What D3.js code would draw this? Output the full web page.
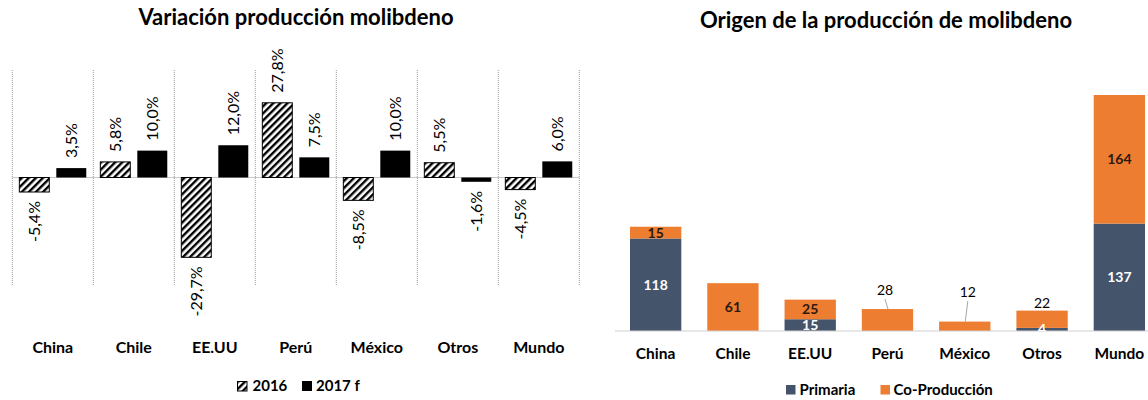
<!DOCTYPE html>
<html>
<head>
<meta charset="utf-8">
<script src="https://cdn.jsdelivr.net/npm/d3@7"></script>
<style>
  html, body { margin: 0; padding: 0; background: #fff; }
  svg { display: block; font-family: Lato, "Open Sans", sans-serif; }
</style>
</head>
<body>
<svg id="chart" width="1148" height="400"></svg>
<script>
// ---------- DATA ----------
const categories = ["China", "Chile", "EE.UU", "Perú", "México", "Otros", "Mundo"];
const var2016 = [-5.4, 5.8, -29.7, 27.8, -8.5, 5.5, -4.5];
const var2017 = [3.5, 10.0, 12.0, 7.5, 10.0, -1.6, 6.0];
const seriesLeft = ["2016", "2017 f"];
const primaria = [118, 0, 15, 0, 0, 4, 137];
const coproduccion = [15, 61, 25, 28, 12, 22, 164];
const seriesRight = ["Primaria", "Co-Producción"];
const titleLeft = "Variación producción molibdeno";
const titleRight = "Origen de la producción de molibdeno";
const calloutCategories = ["Perú", "México", "Otros"];

// ---------- SETUP ----------
const svg = d3.select("#chart");
const defs = svg.append("defs");
const hatch = defs.append("pattern")
  .attr("id", "hatch").attr("patternUnits", "userSpaceOnUse")
  .attr("width", 5).attr("height", 5)
  .attr("patternTransform", "rotate(45)");
hatch.append("rect").attr("width", 5).attr("height", 5).attr("fill", "#fff");
hatch.append("rect").attr("x", 0).attr("y", 0).attr("width", 2.4).attr("height", 5)
  .attr("fill", "#000");

const fmtPct = d => d3.format(".1f")(d).replace("−", "-").replace(".", ",") + "%";

// ---------- LEFT CHART ----------
const L = svg.append("g");
const xL = d3.scaleBand().domain(categories).range([12.3, 579.3]).padding(0);
const xL2 = d3.scaleBand().domain(seriesLeft).range([0, xL.bandwidth()])
  .paddingInner(0.19).paddingOuter(0.19);
const yL = d3.scaleLinear().domain([-40, 40]).range([285, 70]);

L.append("text").attr("x", 296).attr("y", 25).attr("text-anchor", "middle")
  .attr("font-weight", "bold").attr("font-size", 22).attr("fill", "#000")
  .text(titleLeft);

// dotted separators
const seps = categories.map(c => xL(c)).concat([xL.range()[1]]);
L.selectAll("line.sep").data(seps).join("line")
  .attr("class", "sep")
  .attr("x1", d => d).attr("x2", d => d)
  .attr("y1", yL(40)).attr("y2", yL(-40))
  .attr("stroke", "#9a9a9a").attr("stroke-width", 1).attr("stroke-dasharray", "1,1");

// zero line
L.append("line").attr("x1", xL.range()[0]).attr("x2", xL.range()[1])
  .attr("y1", yL(0)).attr("y2", yL(0))
  .attr("stroke", "#c8c8c8").attr("stroke-width", 1);

const leftData = [];
categories.forEach((c, i) => {
  leftData.push({ cat: c, s: seriesLeft[0], v: var2016[i] });
  leftData.push({ cat: c, s: seriesLeft[1], v: var2017[i] });
});

L.selectAll("rect.bar").data(leftData).join("rect")
  .attr("class", "bar")
  .attr("x", d => xL(d.cat) + xL2(d.s))
  .attr("width", xL2.bandwidth())
  .attr("y", d => Math.min(yL(d.v), yL(0)))
  .attr("height", d => Math.abs(yL(d.v) - yL(0)))
  .attr("fill", d => d.s === seriesLeft[0] ? "url(#hatch)" : "#000")
  .attr("stroke", "#000").attr("stroke-width", d => d.s === seriesLeft[0] ? 1 : 0);

L.selectAll("text.val").data(leftData).join("text")
  .attr("class", "val")
  .attr("transform", d => {
    const cx = xL(d.cat) + xL2(d.s) + xL2.bandwidth() / 2;
    const cy = d.v >= 0 ? yL(d.v) - 10 : yL(d.v) + 9;
    return `translate(${cx},${cy}) rotate(-90)`;
  })
  .attr("dy", "0.35em")
  .attr("text-anchor", d => d.v >= 0 ? "start" : "end")
  .attr("font-size", 16).attr("fill", "#000")
  .text(d => fmtPct(d.v));

// x axis labels
L.selectAll("text.cat").data(categories).join("text")
  .attr("class", "cat")
  .attr("x", d => xL(d) + xL.bandwidth() / 2).attr("y", 353)
  .attr("text-anchor", "middle").attr("font-weight", "bold").attr("font-size", 16)
  .attr("fill", "#000").text(d => d);

// legend left
const legL = L.append("g").attr("transform", "translate(237,381)");
legL.append("rect").attr("x", 0.5).attr("y", 0.5).attr("width", 9.5).attr("height", 9.5)
  .attr("fill", "url(#hatch)").attr("stroke", "#000");
legL.append("text").attr("x", 15.5).attr("y", 10).attr("font-weight", "bold").attr("font-size", 15)
  .text(seriesLeft[0]);
legL.append("rect").attr("x", 65).attr("y", 0).attr("width", 10).attr("height", 10).attr("fill", "#000");
legL.append("text").attr("x", 79).attr("y", 10).attr("font-weight", "bold").attr("font-size", 15)
  .text(seriesLeft[1]);

// ---------- RIGHT CHART ----------
const R = svg.append("g");
const xR = d3.scaleBand().domain(categories).range([617, 1158])
  .paddingInner(0.336).paddingOuter(0.168);
const yR = d3.scaleLinear().domain([0, 301]).range([331, 95]);
const colors = { "Primaria": "#44546A", "Co-Producción": "#ED7D31" };

R.append("text").attr("x", 886).attr("y", 28).attr("text-anchor", "middle")
  .attr("font-weight", "bold").attr("font-size", 22).attr("fill", "#000")
  .text(titleRight);

const stackData = categories.map((c, i) => ({ cat: c, "Primaria": primaria[i], "Co-Producción": coproduccion[i] }));
const stacked = d3.stack().keys(seriesRight)(stackData);

R.append("clipPath").attr("id", "clipR").append("rect")
  .attr("x", 600).attr("y", 0).attr("width", 548).attr("height", yR(0));

const layers = R.selectAll("g.layer").data(stacked).join("g")
  .attr("class", "layer").attr("fill", d => colors[d.key]);
layers.selectAll("rect").data(d => d.map(p => ({ key: d.key, p }))).join("rect")
  .attr("x", d => xR(d.p.data.cat)).attr("width", xR.bandwidth())
  .attr("y", d => yR(d.p[1])).attr("height", d => yR(d.p[0]) - yR(d.p[1]));

// axis line
R.append("line").attr("x1", 615).attr("x2", 1148).attr("y1", yR(0)).attr("y2", yR(0))
  .attr("stroke", "#d0d0d0").attr("stroke-width", 1);

// value labels
const calloutOffsets = { "Perú": [-2.5, -14], "México": [3, -24.5], "Otros": [0, -3] };
const labelG = R.append("g");
stacked.forEach(layer => {
  layer.forEach(p => {
    const v = p[1] - p[0];
    if (v <= 0) return;
    const cat = p.data.cat;
    const cx = xR(cat) + xR.bandwidth() / 2;
    if (layer.key === "Co-Producción" && calloutCategories.includes(cat)) {
      const [dx, dy] = calloutOffsets[cat];
      const top = yR(p[1]);
      labelG.append("text").attr("x", cx + dx).attr("y", top + dy)
        .attr("text-anchor", "middle").attr("font-size", 14).attr("fill", "#000").text(v);
      if (dy < -8) {
        labelG.append("line")
          .attr("x1", cx + dx).attr("y1", top + dy + 4)
          .attr("x2", cx + 0.5).attr("y2", top)
          .attr("stroke", "#a6a6a6").attr("stroke-width", 1);
      }
    } else {
      const cy = (yR(p[0]) + yR(p[1])) / 2;
      labelG.append("text").attr("x", cx).attr("y", cy).attr("dy", "0.35em")
        .attr("clip-path", "url(#clipR)")
        .attr("text-anchor", "middle").attr("font-weight", "bold").attr("font-size", 14)
        .attr("fill", layer.key === "Primaria" ? "#fff" : "#2a1a10").text(v);
    }
  });
});

// x labels right
R.selectAll("text.cat").data(categories).join("text")
  .attr("class", "cat")
  .attr("x", d => xR(d) + xR.bandwidth() / 2).attr("y", 359)
  .attr("text-anchor", "middle").attr("font-weight", "bold").attr("font-size", 15.5)
  .attr("fill", "#000").text(d => d);

// legend right
const legR = R.append("g").attr("transform", "translate(786,385)");
legR.append("rect").attr("x", 0).attr("y", 0).attr("width", 9.5).attr("height", 9.5).attr("fill", colors["Primaria"]);
legR.append("text").attr("x", 13.5).attr("y", 9.5).attr("font-weight", "bold").attr("font-size", 15).text(seriesRight[0]);
legR.append("rect").attr("x", 94.5).attr("y", 0).attr("width", 9.5).attr("height", 9.5).attr("fill", colors["Co-Producción"]);
legR.append("text").attr("x", 107.5).attr("y", 9.5).attr("font-weight", "bold").attr("font-size", 15).text(seriesRight[1]);
</script>
</body>
</html>
